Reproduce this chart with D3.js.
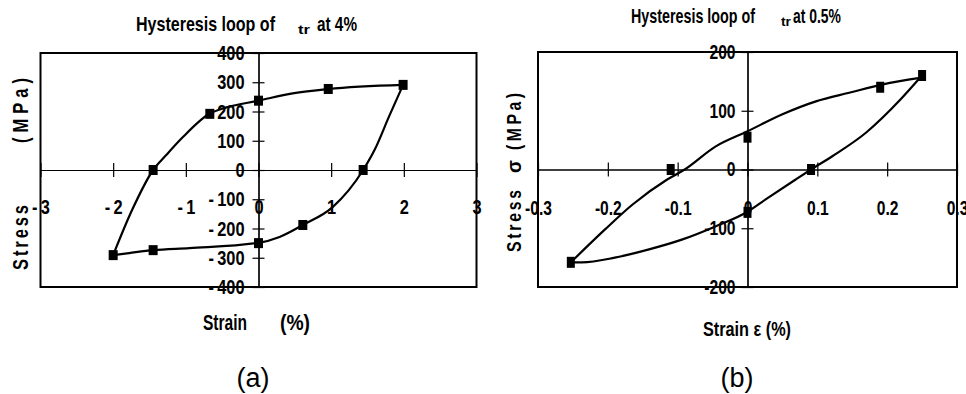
<!DOCTYPE html>
<html>
<head>
<meta charset="utf-8">
<script src="https://cdn.jsdelivr.net/npm/d3@7"></script>
<style>
body { margin: 0; background: #fff; }
text { fill: #000; }
</style>
</head>
<body>
<svg id="fig" width="966" height="394"></svg>
<script>
// ---- panel (a): loop at 4 % ----
const xTicksA = [-3, -2, -1, 0, 1, 2, 3];
const yTicksA = [-400, -300, -200, -100, 0, 100, 200, 300, 400];
// smoothed loop, loading branch and unloading branch
const upperA = [[-2, -291], [-1.74, -137], [-1.45, 0], [-1.27, 51], [-1.05, 110], [-0.67, 193],
  [-0.44, 214], [0, 237], [0.47, 262], [0.96, 277], [1.99, 291]];
const lowerA = [[-2, -291], [-1.78, -284], [-1.45, -274], [-0.95, -267], [0, -249], [0.29, -229],
  [0.61, -188], [1.02, -127], [1.44, 0], [1.6, 70], [1.8, 185], [1.99, 291]];
// measured points
const markA = [[-2, -291], [-1.45, 0], [-0.67, 192], [0, 237], [0.96, 277], [1.99, 291],
  [1.44, 0], [0.61, -188], [0, -250], [-1.45, -274]];

// ---- panel (b): loop at 0.5 % ----
const xTicksB = [-0.3, -0.2, -0.1, 0, 0.1, 0.2, 0.3];
const yTicksB = [-200, -100, 0, 100, 200];
const upperB = [[-0.253, -158], [-0.204, -102], [-0.165, -60], [-0.115, -17], [-0.09, 0], [-0.046, 39],
  [0, 65], [0.05, 94], [0.098, 116], [0.147, 131], [0.194, 145], [0.247, 156]];
const lowerB = [[-0.253, -158], [-0.237, -158], [-0.19, -150], [-0.141, -136], [-0.093, -119],
  [-0.046, -97], [0, -72], [0.026, -51], [0.069, -17], [0.091, 0], [0.122, 23], [0.17, 63],
  [0.219, 119], [0.247, 156]];
const markB = [[0.25, 160], [0.19, 140], [0, 55], [-0.11, 0], [-0.253, -158], [0.091, 0], [0, -73]];

const boldFam = '"Liberation Sans", Arial, sans-serif';
const squeeze = 0.78; // the original uses a tall condensed face
const svg = d3.select("#fig");

// squeeze a text horizontally, keeping its anchor
function narrowText(sel, f = squeeze) {
  sel.each(function () {
    const w = this.getComputedTextLength();
    if (w > 0) d3.select(this).attr("textLength", w * f).attr("lengthAdjust", "spacingAndGlyphs");
  });
}

function txt(x, y, s, size, len, opt = {}) {
  const g = svg.append("g")
    .attr("transform", `translate(${x},${y})` + (opt.rotate ? " rotate(-90)" : ""));
  const inner = opt.spread ? g.append("g").attr("transform", `scale(${opt.sx || 0.75},1)`) : g;
  const t = inner.append("text")
    .attr("font-family", opt.family || boldFam)
    .attr("font-weight", opt.weight || "bold")
    .attr("font-size", size)
    .text(s);
  if (opt.anchor) t.attr("text-anchor", opt.anchor);
  if (opt.spread) {
    // narrow glyphs, extra letter spacing to reach the wanted length
    const w = t.node().getComputedTextLength();
    const n = s.length;
    const ls = n > 1 ? (len / (opt.sx || 0.75) - w) / (n - 1) : 0;
    t.attr("letter-spacing", ls);
  } else if (len) {
    t.attr("textLength", len).attr("lengthAdjust", "spacingAndGlyphs");
  }
  return t;
}

function panel(p) {
  const x = d3.scaleLinear().domain(p.xDomain).range(p.xRange);
  const y = d3.scaleLinear().domain(p.yDomain).range(p.yRange);
  const g = svg.append("g");

  // frame
  g.append("rect")
    .attr("x", p.xRange[0]).attr("y", p.yRange[1])
    .attr("width", p.xRange[1] - p.xRange[0])
    .attr("height", p.yRange[0] - p.yRange[1])
    .attr("fill", "none").attr("stroke", "#000").attr("stroke-width", 2);

  // x axis through y = 0, ticks crossing the line
  const xa = g.append("g").attr("transform", `translate(0,${y(0)})`)
    .call(d3.axisBottom(x).tickValues(p.xTicks).tickSize(7).tickSizeOuter(0)
      .tickPadding(p.xPad).tickFormat(p.xFmt));
  g.append("g").attr("transform", `translate(0,${y(0)})`)
    .call(d3.axisTop(x).tickValues(p.xTicks).tickSize(7).tickSizeOuter(0).tickFormat(""));

  // y axis through x = 0
  const ya = g.append("g").attr("transform", `translate(${x(0)},0)`)
    .call(d3.axisLeft(y).tickValues(p.yTicks).tickSize(6).tickSizeOuter(0)
      .tickPadding(p.yPad).tickFormat(p.yFmt));
  g.append("g").attr("transform", `translate(${x(0)},0)`)
    .call(d3.axisRight(y).tickValues(p.yTicks).tickSize(6).tickSizeOuter(0).tickFormat(""));

  g.selectAll(".domain, .tick line").attr("stroke", "#000").attr("stroke-width", 1.2);
  [xa, ya].forEach(a => a.selectAll("text")
    .attr("font-family", boldFam).attr("font-weight", "bold")
    .attr("font-size", p.tickSize).attr("fill", "#000")
    .call(narrowText));

  const line = d3.line().x(d => x(d[0])).y(d => y(d[1])).curve(d3.curveMonotoneX);
  [p.upper, p.lower].forEach(br => g.append("path")
    .attr("d", line(br)).attr("fill", "none")
    .attr("stroke", "#000").attr("stroke-width", 2.2));

  g.selectAll("rect.mk").data(p.marks).enter().append("rect")
    .attr("class", "mk")
    .attr("x", d => x(d[0]) - p.mw / 2).attr("y", d => y(d[1]) - p.mh / 2)
    .attr("width", p.mw).attr("height", p.mh).attr("fill", "#000");
}

const minusGap = d => d < 0 ? "-\u2009" + Math.abs(d) : String(d);
const plain = d => d < 0 ? "-" + Math.abs(d) : String(d);

panel({
  xDomain: [-3, 3], xRange: [40.5, 476.5],
  yDomain: [-400, 400], yRange: [287, 53],
  xTicks: xTicksA, yTicks: yTicksA,
  xFmt: minusGap, yFmt: minusGap, xPad: 22, yPad: 8, tickSize: 21,
  upper: upperA, lower: lowerA, marks: markA, mw: 9, mh: 10
});

panel({
  xDomain: [-0.3, 0.3], xRange: [538, 957],
  yDomain: [-200, 200], yRange: [287, 52],
  xTicks: xTicksB, yTicks: yTicksB,
  xFmt: plain, yFmt: plain, xPad: 24, yPad: 6, tickSize: 20,
  upper: upperB, lower: lowerB, marks: markB, mw: 8, mh: 11
});

// titles
txt(136, 31, "Hysteresis loop of", 21, 139);
txt(298, 34, "tr", 12, 12);
txt(317, 31, "at 4%", 21, 40);
txt(631, 23, "Hysteresis loop of", 21, 124);
txt(781, 26, "tr", 12, 10);
txt(793, 23, "at 0.5%", 21, 48);

// axis titles
txt(203, 330, "Strain", 22, 44);
txt(280, 330, "(%)", 22, 30);
txt(703, 336, "Strain ε (%)", 21, 88);
txt(28, 270, "Stress", 22, 65, { rotate: true, spread: true });
txt(28, 143, "(MPa)", 22, 65, { rotate: true, spread: true });
txt(521, 252, "Stress", 21, 62, { rotate: true, spread: true });
txt(521, 173, "σ", 21, 13, { rotate: true });
txt(521, 150, "(MPa)", 21, 57, { rotate: true, spread: true });

// panel letters
txt(253, 387, "(a)", 27, null, { weight: "normal", anchor: "middle" });
txt(737, 387, "(b)", 27, null, { weight: "normal", anchor: "middle" });
</script>
</body>
</html>
